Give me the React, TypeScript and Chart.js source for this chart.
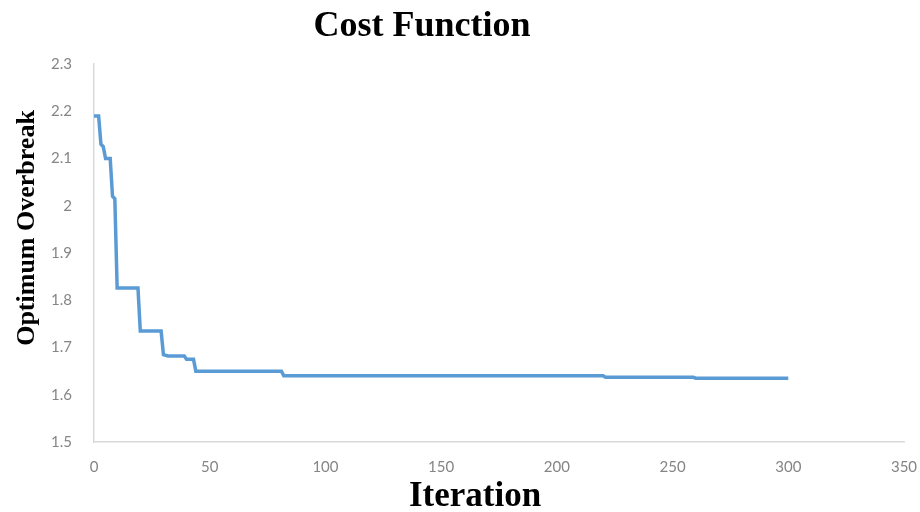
import React, { useEffect, useRef } from "react";
import { Chart, registerables } from "chart.js";

Chart.register(...registerables);

const iterations = [0, 2, 3, 4, 5, 7, 8, 9, 10, 19, 20, 29, 30, 32, 39, 40, 43, 44, 81, 82, 220, 221, 259, 260, 300];
const overbreak = [2.19, 2.19, 2.13, 2.125, 2.1, 2.1, 2.02, 2.015, 1.826, 1.826, 1.735, 1.735, 1.685, 1.682, 1.682, 1.675, 1.675, 1.65, 1.65, 1.64, 1.64, 1.637, 1.637, 1.635, 1.635];

const titleText = "Cost Function";
const xTitle = "Iteration";
const yTitle = "Optimum Overbreak";

const titlePlugin = {
  id: "customTitles",
  afterDraw(chart: any) {
    const ctx = chart.ctx as CanvasRenderingContext2D;
    ctx.save();
    ctx.fillStyle = "#000000";
    ctx.textAlign = "center";
    ctx.textBaseline = "alphabetic";
    ctx.font = "bold 36px 'Liberation Serif', serif";
    ctx.fillText(titleText, 422, 36);
    ctx.font = "bold 35px 'Liberation Serif', serif";
    ctx.fillText(xTitle, 475, 506);
    ctx.translate(34, 228);
    ctx.rotate(-Math.PI / 2);
    ctx.font = "bold 26px 'Liberation Serif', serif";
    ctx.fillText(yTitle, 0, 0);
    ctx.restore();
  },
};

export default function App() {
  const ref = useRef<HTMLCanvasElement | null>(null);
  useEffect(() => {
    if (!ref.current) return;
    const chart = new Chart(ref.current, {
      type: "scatter",
      data: {
        datasets: [
          {
            data: iterations.map((x, i) => ({ x, y: overbreak[i] })),
            showLine: true,
            borderColor: "#5B9BD5",
            borderWidth: 3.5,
            pointRadius: 0,
            fill: false,
            tension: 0,
          },
        ],
      },
      options: {
        animation: false,
        responsive: false,
        maintainAspectRatio: false,
        layout: { padding: { left: 0, top: 64, right: 16, bottom: 0 } },
        plugins: { legend: { display: false }, tooltip: { enabled: false }, title: { display: false } },
        scales: {
          x: {
            type: "linear",
            min: 0,
            max: 350,
            ticks: { stepSize: 50, padding: 16, color: "#858585", font: { family: "Lato", size: 15 } },
            grid: { display: false, drawTicks: false },
            border: { display: true, color: "#d9d9d9", width: 1.5 },
            afterFit: (s: any) => { s.height = 70; s.paddingRight = 0; s.paddingLeft = 0; },
          },
          y: {
            type: "linear",
            min: 1.5,
            max: 2.3,
            ticks: {
              stepSize: 0.1,
              padding: 22,
              color: "#858585",
              font: { family: "Lato", size: 15 },
              callback: (v: any) => String(Number(Number(v).toFixed(1))),
            },
            grid: { display: false, drawTicks: false },
            border: { display: true, color: "#d9d9d9", width: 1.5 },
            afterFit: (s: any) => { s.width = 94; },
          },
        },
      },
      plugins: [titlePlugin],
    });
    return () => chart.destroy();
  }, []);
  return (
    <div style={{ position: "absolute", left: 0, top: 0, width: 920, height: 512, background: "#fff" }}>
      <canvas ref={ref} width={920} height={512} style={{ width: 920, height: 512 }} />
    </div>
  );
}
